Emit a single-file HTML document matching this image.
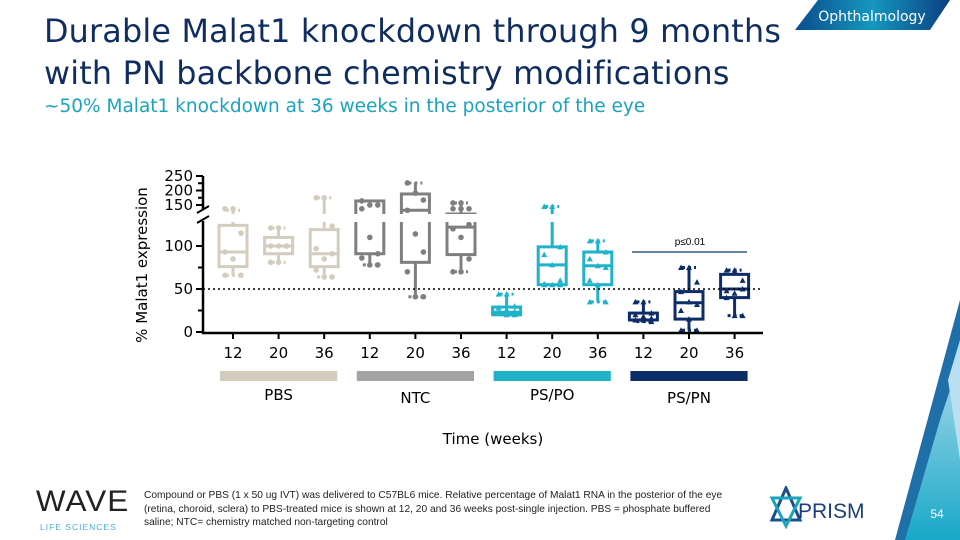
<!DOCTYPE html>
<html><head><meta charset="utf-8"><style>
body{margin:0;width:960px;height:540px;overflow:hidden;background:#fff;font-family:"Liberation Sans",Verdana,sans-serif;position:relative}
.abs{position:absolute}
</style></head><body>
<div class="abs" style="left:44px;top:11px;font-size:31.8px;line-height:42px;color:#0f2d5e;font-family:'DejaVu Sans',sans-serif;letter-spacing:0.2px">Durable Malat1 knockdown through 9 months<br>with PN backbone chemistry modifications</div>
<div class="abs" style="left:44px;top:96px;font-size:18.5px;color:#19a3bd;font-family:'DejaVu Sans',sans-serif">~50% Malat1 knockdown at 36 weeks in the posterior of the eye</div>
<svg class="abs" style="left:0;top:0" width="960" height="540">
<defs><linearGradient id="g1" x1="0" x2="1"><stop offset="0" stop-color="#0a4d8c"/><stop offset="0.5" stop-color="#1597c0"/><stop offset="1" stop-color="#0a3f80"/></linearGradient>
<linearGradient id="g2" x1="0" y1="0" x2="0" y2="1"><stop offset="0" stop-color="#a9d9ea"/><stop offset="1" stop-color="#18a8c8"/></linearGradient></defs>
<polygon points="818,0 950,0 930,30 795,30" fill="url(#g1)"/>
<text x="872" y="21" font-size="14" fill="#fff" text-anchor="middle" font-family="DejaVu Sans,sans-serif">Ophthalmology</text>
<polygon points="960,300 960,540 895,540" fill="#1f6fa8"/>
<polygon points="940,420 960,360 960,540 905,540" fill="url(#g2)"/>
<polygon points="948,380 960,340 960,460" fill="#b9dff0"/>
<text x="937" y="518" font-size="12" fill="#fff" text-anchor="middle">54</text>
</svg>
<svg class="abs" style="left:0;top:0" width="960" height="540" id="chart"></svg>
<div class="abs" style="left:38px;top:487px;width:84px;text-align:center;font-size:30px;line-height:30px;letter-spacing:1px;color:#222;transform:scaleX(1.05)">WAVE</div>
<div class="abs" style="left:40px;top:522px;font-size:8.5px;color:#4ab0d0;letter-spacing:1px">LIFE SCIENCES</div>
<div class="abs" style="left:144px;top:489px;width:592px;font-size:10.2px;line-height:13.5px;color:#222">Compound or PBS (1 x 50 ug IVT) was delivered to C57BL6 mice. Relative percentage of Malat1 RNA in the posterior of the eye (retina, choroid, sclera) to PBS-treated mice is shown at 12, 20 and 36 weeks post-single injection. PBS = phosphate buffered saline; NTC= chemistry matched non-targeting control</div>
<svg class="abs" style="left:768px;top:486px" width="100" height="44">
<polygon points="18,2 32,34 4,34" fill="none" stroke="#1b4f8a" stroke-width="3"/><polygon points="18,40 32,12 4,12" fill="none" stroke="#19a3bd" stroke-width="3"/>
<text x="30" y="32" font-size="21" fill="#1b3f78" font-family="Liberation Sans">PRISM</text></svg>
<script>
const labels=["12","20","36","12","20","36","12","20","36","12","20","36"];
const groups=["PBS","NTC","PS/PO","PS/PN"];
const mins=[66,81,64,78,41,70,20,55,35,12,2,19];
const q1s=[76,91,76,91,81,90,20,55,55,14,15,40];
const meds=[93,100,91,135,143,122,23,78,77,14,34,50];
const q3s=[124,110,119,164,188,138,29,99,93,22,47,67];
const maxs=[143,121,175,164,226,157,44,148,106,35,75,72];
const pts=[[145,145,115,93,85,66,66],[121,121,100,100,100,100,81,81],[175,175,123,97,85,91,72,64,64],[164,150,150,145,110,91,86,78,78],[226,191,167,143,114,93,70,41,41],[157,157,145,145,145,125,120,110,85,70,70],[44,44,30,28,26,24,22,20,20],[148,148,99,90,78,60,56,55,55,55],[106,106,93,85,77,75,60,55,35,35],[35,35,22,20,18,16,14,14,12],[75,75,58,47,35,32,25,15,2,2],[72,72,60,48,45,50,40,19,19]];
const yTicks=[0,50,100,150,200,250];
const pText="p≤0.01";
const colors=["#d4cdbf","#d4cdbf","#d4cdbf","#7f7f7f","#7f7f7f","#7f7f7f","#1fb2cb","#1fb2cb","#1fb2cb","#0d2d69","#0d2d69","#0d2d69"];
const gColors=["#d4cdbf","#a3a3a3","#1fb2cb","#0d2d69"];
const svg=document.getElementById('chart');const NS="http://www.w3.org/2000/svg";
function mk(t,a,p){const e=document.createElementNS(NS,t);for(const k in a)e.setAttribute(k,a[k]);(p||svg).appendChild(e);return e;}
function y(v){if(v<=130)return 332-v*0.86;if(v<150)return 220-(v-130)*0.75;return 205-(v-150)*0.29;}
function x(i){return 233+i*45.6;}
const marks=mk('g',{});


for(let i=0;i<12;i++){
 const c=colors[i],cx=x(i),w=14;const g=mk('g',{},marks);
 
 
 mk('line',{x1:cx,x2:cx,y1:y(maxs[i]),y2:y(q3s[i]),stroke:c,"stroke-width":3},g);
 mk('line',{x1:cx,x2:cx,y1:y(q1s[i]),y2:y(mins[i]),stroke:c,"stroke-width":3},g);
 mk('rect',{x:cx-w,y:y(q3s[i]),width:2*w,height:Math.max(1,y(q1s[i])-y(q3s[i])),fill:"none",stroke:c,"stroke-width":3},g);
 mk('line',{x1:cx-w,x2:cx+w,y1:y(meds[i]),y2:y(meds[i]),stroke:c,"stroke-width":3},g);
 mk('line',{x1:cx-7,x2:cx+7,y1:y(maxs[i]),y2:y(maxs[i]),stroke:c,"stroke-width":3,"stroke-dasharray":"3,3"},g);
 mk('line',{x1:cx-7,x2:cx+7,y1:y(mins[i]),y2:y(mins[i]),stroke:c,"stroke-width":3,"stroke-dasharray":"3,3"},g);
 pts[i].forEach((v,j)=>{const off=((j%3)-1)*8;const py=y(v);
  if(i<6)mk('circle',{cx:cx+off,cy:py,r:2.8,fill:c},g);
  else mk('polygon',{points:`${cx+off},${py-3} ${cx+off-3},${py+2.5} ${cx+off+3},${py+2.5}`,fill:c},g);});
}
// axis break gap
mk('rect',{x:204,y:214,width:560,height:8,fill:"#fff"});
let ax=mk('path',{d:"M203,176 L203,210 M203,221 L203,333 L763,333",stroke:"#000","stroke-width":2.5,fill:"none"});


mk('path',{d:"M197,213 L209,206 M197,223 L209,216",stroke:"#000","stroke-width":2,fill:"none"});
[25,75,175,225].forEach(v=>mk('line',{x1:198,x2:203,y1:y(v),y2:y(v),stroke:"#000","stroke-width":2}));
yTicks.forEach(v=>{mk('line',{x1:196,x2:203,y1:y(v),y2:y(v),stroke:"#000","stroke-width":2});
 const t=mk('text',{x:193,y:y(v)+5,"font-size":15,"text-anchor":"end","font-family":"DejaVu Sans,sans-serif"});t.textContent=v;
 
 });
const yt=mk('text',{x:0,y:0,"font-size":15,"text-anchor":"middle",transform:"translate(147,265) rotate(-90)","font-family":"DejaVu Sans,sans-serif"});yt.textContent="% Malat1 expression";


mk('line',{x1:203,x2:763,y1:y(50),y2:y(50),stroke:"#000","stroke-width":1.5,"stroke-dasharray":"2,3"});
labels.forEach((l,i)=>{mk('line',{x1:x(i),x2:x(i),y1:333,y2:339,stroke:"#000","stroke-width":2});
 const t=mk('text',{x:x(i),y:358,"font-size":15,"text-anchor":"middle","font-family":"DejaVu Sans,sans-serif"});t.textContent=l;
 
 });
mk('line',{x1:632,x2:747,y1:252,y2:252,stroke:"#2f5d8a","stroke-width":1.5});
const pt=mk('text',{x:690,y:245,"font-size":10,"text-anchor":"middle"});pt.textContent=pText;


groups.forEach((gname,k)=>{const x0=x(k*3)-13,x1=x(k*3+2)+13;
 const r=mk('rect',{x:x0,y:371,width:x1-x0,height:10,fill:gColors[k]});
 
 
 const t=mk('text',{x:(x0+x1)/2,y:k%2?403:400,"font-size":15,"text-anchor":"middle","font-family":"DejaVu Sans,sans-serif"});t.textContent=gname;
 
 });
const xt=mk('text',{x:493,y:444,"font-size":15,"text-anchor":"middle","font-family":"DejaVu Sans,sans-serif"});xt.textContent="Time (weeks)";


</script>
</body></html>
